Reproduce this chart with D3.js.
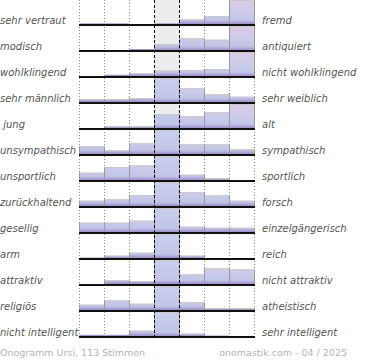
<!DOCTYPE html>
<html>
<head>
<meta charset="utf-8">
<script src="https://cdn.jsdelivr.net/npm/d3@7"></script>
<style>
  html, body { margin: 0; padding: 0; background: #fff; }
  svg { display: block; }
  text { font-family: "DejaVu Sans", sans-serif; }
</style>
</head>
<body>
<svg id="chart" width="370" height="360"></svg>
<script>
// ---- data ----
const leftLabels = ["sehr vertraut", "modisch", "wohlklingend", "sehr männlich", " jung",
  "unsympathisch", "unsportlich", "zurückhaltend", "gesellig", "arm", "attraktiv",
  "religiös", "nicht intelligent"];
const rightLabels = ["fremd", "antiquiert", "nicht wohlklingend", "sehr weiblich", "alt",
  "sympathisch", "sportlich", "forsch", "einzelgängerisch", "reich", "nicht attraktiv",
  "atheistisch", "sehr intelligent"];
const scaleSteps = [1, 2, 3, 4, 5, 6, 7];
// share of votes per step (row-relative units; values above the cap are clipped)
const votes = [
  [0.7, 0.7, 0, 0.7, 4.7, 8, 30],
  [0, 0, 1, 6, 11.7, 10.3, 30],
  [0, 1.3, 2.7, 5.3, 6, 7, 30],
  [3, 3, 4, 30, 13.7, 7.7, 5.3],
  [0, 1.7, 1.7, 13.7, 12, 15.7, 30],
  [7.7, 3.7, 10.7, 30, 9.7, 9.7, 4.7],
  [7.3, 13, 14.7, 30, 5.3, 1.7, 0],
  [5.3, 6.7, 11, 30, 13.7, 10.7, 5.3],
  [9.3, 9.3, 11.3, 30, 5.3, 4.3, 4.3],
  [0.5, 2.3, 5.3, 30, 2.3, 0, 0],
  [0, 3.7, 3, 30, 9.7, 15.7, 14.7],
  [5.3, 9.7, 6.3, 30, 7.7, 2, 2],
  [1.3, 1.3, 5.3, 30, 2.3, 0.5, 0]
];
const footerLeft = "Onogramm Ursi, 113 Stimmen";
const footerRight = "onomastik.com - 04 / 2025";

// ---- drawing ----
const svg = d3.select("#chart");
const x = d3.scaleBand().domain(scaleSteps).range([79.5, 254.5]).padding(0);
const row = d3.scaleBand().domain(d3.range(leftLabels.length)).range([0, 338]).padding(0);
const y = d3.scaleLinear().domain([0, 24]).range([24, 0]).clamp(true);
const plotBottom = 338;
const midStep = 4;

const defs = svg.append("defs");
function grad(id, stops) {
  const g = defs.append("linearGradient").attr("id", id)
    .attr("gradientUnits", "userSpaceOnUse")
    .attr("x1", 0).attr("x2", 0).attr("y1", 0).attr("y2", 24);
  stops.forEach(s => g.append("stop").attr("offset", s[0]).attr("stop-color", s[1]));
}
grad("gSide", [[0, "#dec9e8"], [0.5, "#cccbea"], [0.84, "#c2c5e8"], [0.93, "#aea6d8"], [1, "#9b8ecb"]]);
grad("gMid", [[0, "#c8cfec"], [0.84, "#c2c5e8"], [0.93, "#aea6d8"], [1, "#9b8ecb"]]);

// middle column background
svg.append("rect")
  .attr("x", x(midStep)).attr("y", 0)
  .attr("width", x.bandwidth()).attr("height", plotBottom - 1)
  .attr("fill", "#ececec");

// dotted grid lines
const bounds = scaleSteps.map(s => x(s)).concat([x(7) + x.bandwidth()]);
svg.append("g").selectAll("line")
  .data(bounds.filter((b, i) => i !== 3 && i !== 4))
  .join("line")
  .attr("x1", d => d).attr("x2", d => d)
  .attr("y1", 0).attr("y2", plotBottom)
  .attr("stroke", "#8a8a8a").attr("stroke-width", 1)
  .attr("stroke-dasharray", "1,2");

// rows
const rows = svg.append("g").selectAll("g.row")
  .data(votes)
  .join("g").attr("class", "row")
  .attr("transform", (d, i) => `translate(0,${row(i)})`);

rows.each(function (vals, ri) {
  const g = d3.select(this);
  const bars = vals.map((v, i) => ({ step: scaleSteps[i], v }));
  const vis = bars.filter(b => y(b.v) < 24);
  g.selectAll("rect.bar").data(vis).join("rect").attr("class", "bar")
    .attr("x", b => x(b.step)).attr("y", b => y(b.v))
    .attr("width", x.bandwidth()).attr("height", b => 24 - y(b.v))
    .attr("fill", b => b.step === midStep ? "url(#gMid)" : "url(#gSide)");
  g.selectAll("line.top").data(vis.filter(b => 24 - y(b.v) > 1.5)).join("line").attr("class", "top")
    .attr("x1", b => x(b.step)).attr("x2", b => x(b.step) + x.bandwidth())
    .attr("y1", b => y(b.v) + 0.5).attr("y2", b => y(b.v) + 0.5)
    .attr("stroke", "#c9c9c9").attr("stroke-width", 1);
  const sides = [];
  vis.forEach(b => {
    sides.push({ xx: x(b.step), top: y(b.v) });
    sides.push({ xx: x(b.step) + x.bandwidth(), top: y(b.v) });
  });
  g.selectAll("line.side").data(sides.filter(s => 24 - s.top > 1.5)).join("line").attr("class", "side")
    .attr("x1", s => s.xx).attr("x2", s => s.xx)
    .attr("y1", s => s.top).attr("y2", 24)
    .attr("stroke", "#9a9a9a").attr("stroke-width", 1);
  // baseline
  g.append("line")
    .attr("x1", x(1) - 0.5).attr("x2", x(7) + x.bandwidth() + 0.5)
    .attr("y1", 25).attr("y2", 25)
    .attr("stroke", "#111").attr("stroke-width", 2);
  // labels
  g.append("text").attr("x", 0).attr("y", 23.5)
    .style("white-space", "pre")
    .attr("font-size", 10).attr("font-style", "italic").attr("fill", "#555")
    .text(leftLabels[ri]);
  g.append("text").attr("x", 262).attr("y", 23.5)
    .attr("font-size", 10).attr("font-style", "italic").attr("fill", "#555")
    .text(rightLabels[ri]);
});

// dashed lines around middle column
svg.append("g").selectAll("line")
  .data([x(midStep), x(midStep) + x.bandwidth()])
  .join("line")
  .attr("x1", d => d).attr("x2", d => d)
  .attr("y1", 0).attr("y2", plotBottom)
  .attr("stroke", "#000").attr("stroke-width", 1)
  .attr("stroke-dasharray", "3,2");

// footer
svg.append("text").attr("x", 0).attr("y", 356)
  .attr("font-size", 9.5).attr("fill", "#b4b4b4").text(footerLeft);
svg.append("text").attr("x", 347).attr("y", 356).attr("text-anchor", "end")
  .attr("font-size", 9.5).attr("fill", "#b4b4b4").text(footerRight);
</script>
</body>
</html>
